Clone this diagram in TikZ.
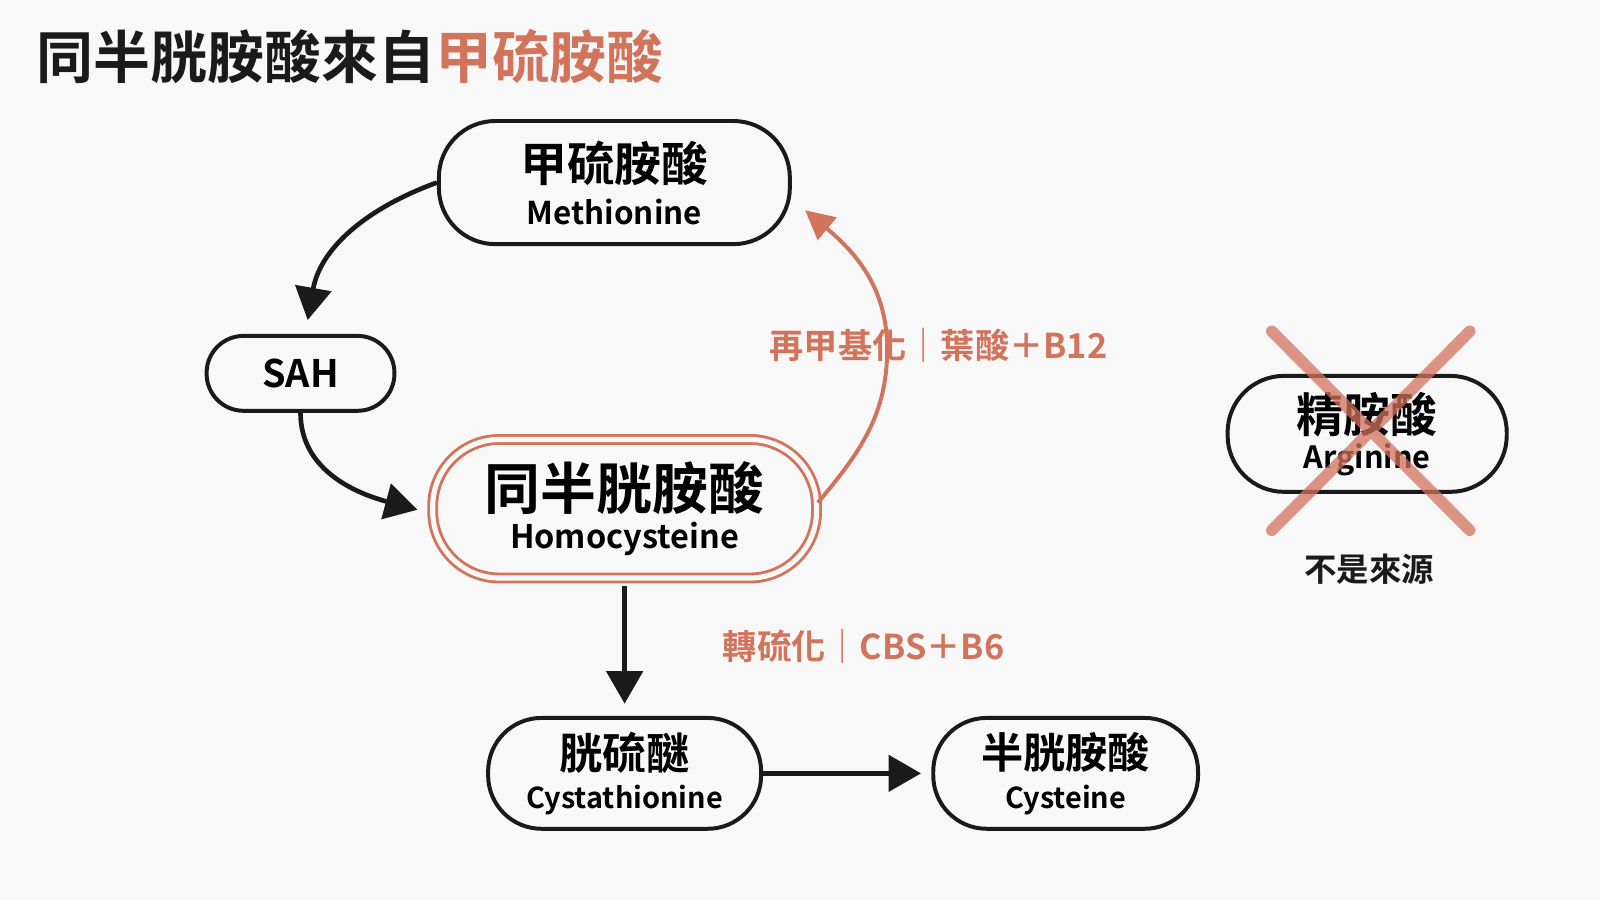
\documentclass[tikz,border=0pt]{standalone}
\usepackage{fontspec}
\setmainfont{Noto Sans CJK TC}[BoldFont={* Bold}]
\usetikzlibrary{arrows.meta}
\definecolor{org}{HTML}{D2735C}
\definecolor{ink}{HTML}{1A1A1A}
\definecolor{bg}{HTML}{F8F8F8}
\begin{document}
\begin{tikzpicture}[x=0.01cm,y=-0.01cm,
  pill/.style={draw=ink,line width=1.1pt,rounded corners=0.45cm,align=center,inner sep=0pt,fill=bg},
  arr/.style={ink,line width=1.3pt,-{Triangle[length=9pt,width=10pt]}},
  oarr/.style={org,line width=1.1pt,-{Triangle[length=8pt,width=8pt]}}]
\fill[bg] (0,0) rectangle (1560,877.5);
\useasboundingbox (0,0) rectangle (1560,877.5);
\node[anchor=west,inner sep=0pt,font=\bfseries\fontsize{15.8}{17}\selectfont,text=ink] (title) at (35,55) {同半胱胺酸來自\textcolor{org}{甲硫胺酸}};
\node[pill,minimum width=3.42cm,minimum height=1.2cm,rounded corners=0.55cm] (met) at (599,178) {{\bfseries\fontsize{13}{14}\selectfont 甲硫胺酸}\\[0pt]{\bfseries\fontsize{8.7}{10}\selectfont Methionine}};
\node[pill,minimum width=1.83cm,minimum height=0.73cm,rounded corners=0.36cm,font=\bfseries\fontsize{10.5}{12}\selectfont] (sah) at (293,364) {SAH};
\node[pill,draw=org,line width=0.8pt,double=bg,double distance=0.05cm,minimum width=3.74cm,minimum height=1.35cm,rounded corners=0.65cm] (hcy) at (609,496) {{\bfseries\fontsize{15.5}{17}\selectfont 同半胱胺酸}\\[-1pt]{\bfseries\fontsize{9}{11}\selectfont Homocysteine}};
\node[pill,minimum width=2.66cm,minimum height=1.08cm,rounded corners=0.52cm] (cth) at (609,754) {{\bfseries\fontsize{12}{13}\selectfont 胱硫醚}\\[-1pt]{\bfseries\fontsize{8}{10}\selectfont Cystathionine}};
\node[pill,minimum width=2.58cm,minimum height=1.08cm,rounded corners=0.52cm] (cys) at (1039,754) {{\bfseries\fontsize{11.7}{13}\selectfont 半胱胺酸}\\[-1pt]{\bfseries\fontsize{8}{10}\selectfont Cysteine}};
\node[pill,minimum width=2.72cm,minimum height=1.13cm,rounded corners=0.55cm] (arg) at (1333,423) {{\bfseries\fontsize{13}{14}\selectfont 精胺酸}\\[-2pt]{\bfseries\fontsize{8.5}{10}\selectfont Arginine}};
\draw[org,opacity=0.75,line width=3.2pt,line cap=round] (1240,323) -- (1433,517) (1433,323) -- (1240,517);
\node[font=\bfseries\fontsize{9}{11}\selectfont,text=ink] (not) at (1335,555) {不是來源};
\coordinate (c1) at (300,312);
\coordinate (c2) at (407,497);
\coordinate (c3) at (785,205);
\draw[arr] (met.west) to[out=200,in=80] (c1);
\draw[arr] (sah.south) to[out=270,in=165] (c2);
\draw[oarr] ([yshift=0.06cm]hcy.east) to[out=50,in=-90] (865,340) to[out=90,in=-40] (c3);
\node[text=org,font=\bfseries\fontsize{9.5}{11}\selectfont] (l1) at (915,337) {再甲基化｜葉酸＋B12};
\draw[arr] ([yshift=-0.06cm]hcy.south) -- ([yshift=0.12cm]cth.north);
\node[text=org,font=\bfseries\fontsize{9.5}{11}\selectfont] (l2) at (842,630) {轉硫化｜CBS＋B6};
\draw[arr] (cth.east) -- ([xshift=-0.1cm]cys.west);
\end{tikzpicture}
\end{document}
